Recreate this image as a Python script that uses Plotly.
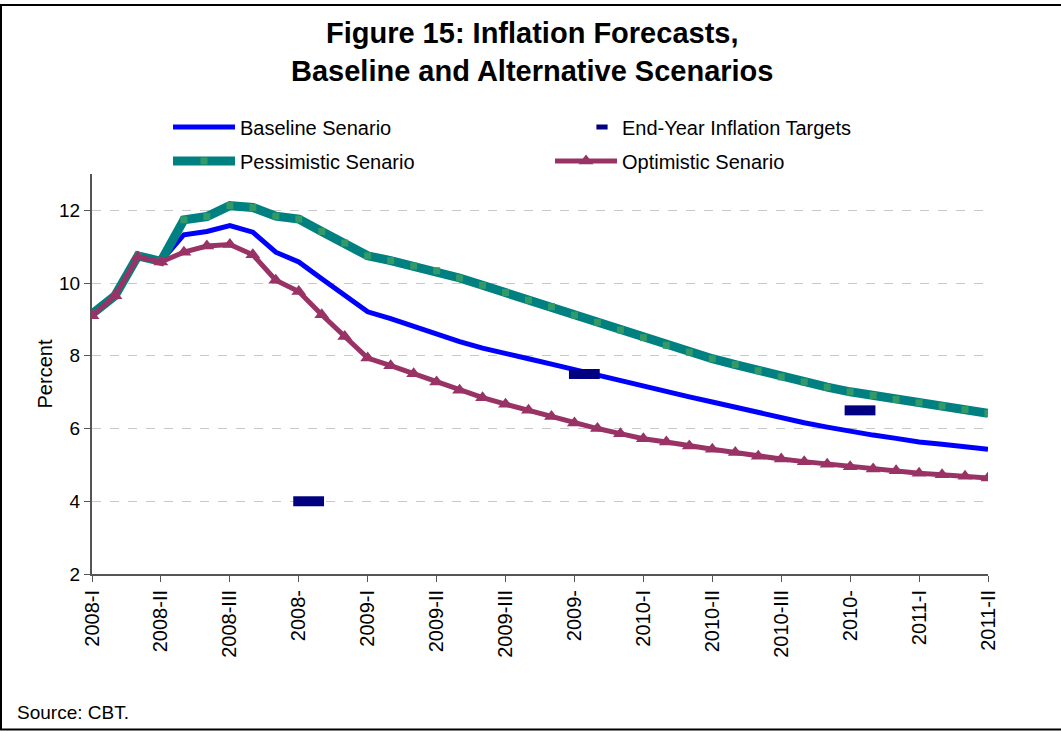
import plotly.graph_objects as go

# ---- data ----
tick_labels = ["2008-I", "2008-II", "2008-III", "2008-", "2009-I", "2009-II", "2009-III",
               "2009-", "2010-I", "2010-II", "2010-III", "2010-", "2011-I", "2011-II"]
months = list(range(40))
baseline = [9.15, 9.65, 10.75, 10.6, 11.33, 11.42, 11.58, 11.40, 10.85, 10.58,
            10.12, 9.67, 9.21, 9.02, 8.80, 8.58, 8.39, 8.21, 8.05, 7.92,
            7.77, 7.62, 7.46, 7.30, 7.14, 7.01, 6.87, 6.73, 6.59, 6.43,
            6.28, 6.16, 6.04, 5.92, 5.82, 5.73, 5.63, 5.57, 5.51, 5.43]
pessimistic = [9.15, 9.65, 10.75, 10.6, 11.74, 11.83, 12.13, 12.08, 11.84, 11.76,
               11.42, 11.10, 10.75, 10.62, 10.47, 10.34, 10.14, 9.94, 9.74, 9.53,
               9.35, 9.12, 8.92, 8.71, 8.50, 8.29, 8.10, 7.92, 7.76, 7.59,
               7.42, 7.28, 7.14, 7.01, 6.91, 6.80, 6.71, 6.62, 6.52, 6.42]
optimistic = [9.1, 9.65, 10.72, 10.58, 10.85, 11.02, 11.06, 10.78, 10.08, 9.77,
              9.13, 8.53, 7.94, 7.73, 7.51, 7.28, 7.05, 6.85, 6.67, 6.50,
              6.33, 6.15, 6.00, 5.86, 5.72, 5.63, 5.52, 5.43, 5.34, 5.24,
              5.16, 5.09, 5.02, 4.95, 4.89, 4.84, 4.77, 4.73, 4.69, 4.64]
target_pos = [9.43, 21.43, 33.43]
target_vals = [4.0, 7.5, 6.5]

FONT = "Arial, Liberation Sans, sans-serif"
W, H = 1061, 731
L, R, T, B = 92, 73, 174, 157
pw, ph = W - L - R, H - T - B

def px_x(p):
    return (p - L) / pw

def px_y(p):
    return (H - B - p) / ph

fig = go.Figure()
fig.add_trace(go.Scatter(x=months, y=baseline, mode="lines", name="Baseline Senario",
                         line=dict(color="#0000FF", width=5), legend="legend"))
fig.add_trace(go.Scatter(x=months, y=pessimistic, mode="lines+markers", name="Pessimistic Senario",
                         line=dict(color="#008080", width=9),
                         marker=dict(symbol="square", size=7, color="#339966"),
                         legend="legend3"))
fig.add_trace(go.Scatter(x=months, y=optimistic, mode="lines+markers", name="Optimistic Senario",
                         line=dict(color="#993366", width=5),
                         marker=dict(symbol="triangle-up", size=13, color="#993366"),
                         legend="legend4"))
fig.add_trace(go.Scatter(x=target_pos, y=target_vals, mode="markers", showlegend=False,
                         marker=dict(symbol="line-ew", size=22,
                                     line=dict(color="#000080", width=10))))
fig.add_trace(go.Scatter(x=[None], y=[None], mode="markers", name="End-Year Inflation Targets",
                         marker=dict(symbol="line-ew", size=8,
                                     line=dict(color="#000080", width=5)),
                         legend="legend2"))

leg_common = dict(font=dict(family=FONT, size=20, color="black"), bgcolor="rgba(0,0,0,0)",
                  xanchor="left", yanchor="middle", orientation="h")
fig.update_layout(
    width=W, height=H,
    margin=dict(l=L, r=R, t=T, b=B),
    paper_bgcolor="white", plot_bgcolor="white",
    font=dict(family=FONT, color="black"),
    legend=dict(x=px_x(168), y=px_y(127), itemwidth=62, **leg_common),
    legend2=dict(x=px_x(582), y=px_y(127), itemwidth=30, **leg_common),
    legend3=dict(x=px_x(168), y=px_y(161), itemwidth=62, **leg_common),
    legend4=dict(x=px_x(550), y=px_y(161), itemwidth=62, **leg_common),
    xaxis=dict(range=[0, 39], tickmode="array", tickvals=list(range(0, 40, 3)),
               ticktext=tick_labels, tickangle=-90, ticks="outside", ticklen=6,
               tickcolor="#555555", showline=True, linecolor="#555555", linewidth=2,
               showgrid=False, zeroline=False, tickfont=dict(family=FONT, size=20, color="black")),
    yaxis=dict(range=[2, 13], tickvals=[2, 4, 6, 8, 10, 12], ticks="outside", ticklen=6,
               tickcolor="#555555", showline=True, linecolor="#555555", linewidth=2,
               showgrid=True, gridcolor="#C8C8C8", griddash="dash", gridwidth=1,
               zeroline=False, tickfont=dict(family=FONT, size=19, color="black"),
               title=dict(text="Percent", font=dict(family=FONT, size=20, color="black"),
                          standoff=1)),
    annotations=[
        dict(text="<b>Figure 15: Inflation Forecasts,<br>Baseline and Alternative Scenarios</b>",
             x=px_x(532), y=px_y(52), xref="paper", yref="paper", xanchor="center",
             yanchor="middle", showarrow=False, align="center",
             font=dict(family=FONT, size=29, color="black")),
        dict(text="Source: CBT.", x=px_x(15), y=px_y(712), xref="paper", yref="paper",
             xanchor="left", yanchor="middle", showarrow=False,
             font=dict(family=FONT, size=19, color="black"))],
    shapes=[dict(type="rect", xref="paper", yref="paper",
                 x0=px_x(1), x1=px_x(1075), y0=px_y(729.5), y1=px_y(5),
                 line=dict(color="black", width=2), layer="below")],
)

fig.write_html("out.html", config={"displayModeBar": False},
               post_script="document.body.style.margin='0';document.body.style.overflow='hidden';")
